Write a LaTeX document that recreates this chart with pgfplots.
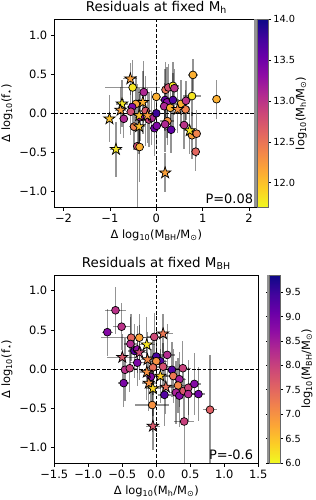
\documentclass[border=0pt]{standalone}
\usepackage{fontspec}
\setmainfont{DejaVu Sans}
\usepackage{pgfplots}
\pgfplotsset{compat=1.18}
\usepackage{pgfplotstable}

\pgfdeclareplotmark{fstar}{%
  \pgfpathmoveto{\pgfpointpolar{90}{\pgfplotmarksize}}%
  \pgfpathlineto{\pgfpointpolar{126}{0.382\pgfplotmarksize}}%
  \pgfpathlineto{\pgfpointpolar{162}{\pgfplotmarksize}}%
  \pgfpathlineto{\pgfpointpolar{198}{0.382\pgfplotmarksize}}%
  \pgfpathlineto{\pgfpointpolar{234}{\pgfplotmarksize}}%
  \pgfpathlineto{\pgfpointpolar{270}{0.382\pgfplotmarksize}}%
  \pgfpathlineto{\pgfpointpolar{306}{\pgfplotmarksize}}%
  \pgfpathlineto{\pgfpointpolar{342}{0.382\pgfplotmarksize}}%
  \pgfpathlineto{\pgfpointpolar{18}{\pgfplotmarksize}}%
  \pgfpathlineto{\pgfpointpolar{54}{0.382\pgfplotmarksize}}%
  \pgfpathclose
  \pgfusepathqfillstroke}

\pgfplotstableread{
x y ex ey c
-0.51 0.33 0.60 0.35 11.8
-0.27 0.27 0.12 0.40 13.1
0.00 0.21 0.10 0.30 12.1
-0.44 0.12 0.15 0.35 12.2
-0.52 0.08 0.12 0.30 13.4
-0.55 0.02 0.10 0.30 12.8
-0.70 -0.07 0.10 0.25 13.1
-0.23 0.03 0.12 0.45 12.7
-0.16 -0.08 0.15 0.35 12.9
-0.48 -0.17 0.10 0.30 12.4
-0.41 -0.42 0.10 0.80 12.8
-0.36 -0.43 0.10 0.45 12.1
-0.35 -0.05 0.12 0.30 13.3
-0.10 -0.06 0.10 0.35 13.1
0.00 0.00 0.10 0.30 13.8
-0.04 -0.19 0.10 0.35 13.5
0.01 -0.16 0.10 0.30 13.4
0.20 0.30 0.10 0.35 12.5
0.26 0.33 0.10 0.30 12.8
0.36 0.35 0.12 0.30 11.8
0.39 0.32 0.10 0.25 13.0
0.19 0.17 0.10 0.40 13.6
0.23 0.14 0.10 0.45 13.3
0.36 0.17 0.12 0.35 13.7
0.17 0.09 0.10 0.30 13.1
0.30 0.07 0.10 0.30 12.1
0.24 -0.10 0.15 0.30 12.3
0.19 -0.14 0.10 0.35 13.1
0.32 -0.21 0.10 0.30 13.6
0.53 0.12 0.12 0.30 12.1
0.64 0.16 0.10 0.25 13.0
0.63 0.05 0.10 0.25 12.4
0.77 0.22 0.20 0.25 11.8
0.79 0.49 0.10 0.20 12.1
0.60 -0.15 0.10 0.30 13.0
0.77 -0.28 0.10 0.30 12.2
0.87 -0.26 0.10 0.30 12.4
0.85 -0.49 0.10 0.25 12.6
1.30 0.18 0.10 0.25 12.1
}\topcirc

\pgfplotstableread{
x y ex ey c
-0.56 0.44 0.15 0.20 12.2
-0.74 0.12 0.12 0.30 11.8
-0.77 0.04 0.12 0.30 12.2
-1.01 -0.07 0.10 0.30 12.0
-0.87 -0.46 0.12 0.35 11.8
-0.29 0.14 0.12 0.40 12.1
-0.37 -0.03 0.12 0.35 12.0
-0.37 -0.17 0.12 0.35 12.0
-0.19 -0.03 0.12 0.35 12.2
0.19 -0.76 0.10 0.25 12.2
0.46 0.05 0.12 0.30 12.3
0.72 -0.22 0.12 0.30 11.8
}\topstar

\pgfplotstableread{
x y ex ey c
-0.60 0.75 0.16 0.30 8.2
-0.72 0.47 0.08 0.30 8.8
-0.51 0.54 0.12 0.30 8.2
-0.37 0.40 0.45 0.30 7.5
-0.25 0.40 0.10 0.30 6.8
-0.03 0.41 0.10 0.30 7.9
-0.38 0.32 0.10 0.35 8.3
-0.32 0.23 0.10 0.35 9.3
-0.28 0.25 0.10 0.30 8.7
-0.28 0.08 0.10 0.30 8.9
-0.46 -0.01 0.10 0.40 8.2
-0.39 0.01 0.10 0.30 8.0
-0.48 -0.18 0.08 0.30 8.9
0.00 0.16 0.12 0.35 9.4
0.06 0.10 0.10 0.35 9.3
0.00 0.10 0.10 0.30 7.0
-0.05 0.02 0.10 0.35 7.4
0.10 0.03 0.10 0.30 7.8
-0.08 -0.10 0.10 0.35 8.8
0.16 0.18 0.12 0.40 8.3
0.23 -0.01 0.10 0.35 9.3
0.25 -0.09 0.10 0.35 7.3
0.34 -0.13 0.10 0.35 8.5
0.39 0.01 0.12 0.35 8.0
0.12 -0.33 0.10 0.40 9.3
0.32 -0.21 0.10 0.35 7.1
0.29 -0.30 0.10 0.40 8.4
0.34 -0.34 0.10 0.40 8.8
0.40 -0.28 0.10 0.35 7.7
0.47 -0.24 0.10 0.35 8.0
0.47 -0.32 0.10 0.35 8.3
0.56 -0.19 0.10 0.40 8.8
0.62 -0.32 0.10 0.35 9.0
0.79 -0.52 0.10 0.70 7.6
0.41 -0.67 0.15 0.55 8.0
-0.06 -0.46 0.25 0.35 7.0
}\botcirc

\pgfplotstableread{
x y ex ey c
0.10 0.45 0.15 0.25 7.3
-0.14 0.31 0.12 0.35 6.2
-0.25 0.21 0.12 0.35 7.9
-0.50 0.15 0.22 0.30 7.7
-0.13 0.12 0.10 0.35 7.1
-0.14 -0.04 0.10 0.35 7.0
-0.11 -0.18 0.10 0.35 7.0
-0.05 -0.25 0.10 0.35 6.3
0.06 -0.09 0.10 0.35 6.4
0.14 -0.23 0.12 0.35 7.4
-0.05 -0.73 0.10 0.30 7.7
}\botstar

\pgfplotsset{
  colormap={plasmar}{rgb255=(240,249,33) rgb255=(252,206,37) rgb255=(252,166,54) rgb255=(242,132,75) rgb255=(225,100,98) rgb255=(204,71,120) rgb255=(177,42,144) rgb255=(143,13,164) rgb255=(106,0,168) rgb255=(65,4,157) rgb255=(13,8,135)},
  resid/.style={
    scale only axis, width=204bp, height=188bp,
    ymin=-1.2, ymax=1.2,
    ytick={-1,-0.5,0,0.5,1}, yticklabels={−1.0,−0.5,0.0,0.5,1.0},
    tick align=outside, xtick pos=left, ytick pos=left,
    major tick length=3.5bp,
    tick style={black, line width=0.6bp},
    axis line style={line width=0.6bp},
    ticklabel style={font=\fontsize{11.5}{13}\selectfont},
    label style={font=\fontsize{11.5}{13}\selectfont},
    title style={font=\fontsize{13.5}{15}\selectfont, yshift=-4bp},
    colormap name=plasmar,
    colorbar right,
  },
  ebars/.style={draw=none, mark=none, forget plot,
    error bars/.cd, x dir=both, x explicit, y dir=both, y explicit, error mark=none,
    error bar style={draw=black, draw opacity=0.42, line width=1.3bp}},
  circs/.style={scatter, only marks, mark=*, mark size=3.9bp, point meta=explicit,
    scatter/use mapped color={draw=black, fill=mapped color},
    mark options={line width=0.7bp}},
  stars/.style={scatter, only marks, mark=fstar, mark size=6bp, point meta=explicit,
    scatter/use mapped color={draw=black, fill=mapped color},
    mark options={line width=0.7bp}},
  cbstyle/.style={
    width=11bp, scale only axis, xshift=-10bp,
    tick align=outside, major tick length=3bp,
    tick style={black, line width=0.6bp},
    axis line style={line width=0.6bp, draw=gray!80!black},
    yticklabel style={font=\fontsize{9.8}{11}\selectfont, inner sep=2bp},
    ylabel style={font=\fontsize{11.5}{13}\selectfont},
    ylabel shift=-5bp,
    after end axis/.code={\draw[gray!85, line width=2.7bp] ([xshift=-1.35bp]rel axis cs:0,0) -- ([xshift=-1.35bp]rel axis cs:0,1);},
  },
}

\begin{document}
\begin{tikzpicture}
\path[use as bounding box] (-54.3bp,19.3bp) rectangle (261.7bp,-480.7bp);

\begin{axis}[resid, name=top, at={(0,0)}, anchor=north west,
  xmin=-2.2, xmax=2.2,
  xtick={-2,-1,0,1,2}, xticklabels={−2,−1,0,1,2},
  title={Residuals at fixed M\textsubscript{h}},
  xlabel={Δ log\textsubscript{10}(M\textsubscript{BH}/M\textsubscript{⊙})},
  ylabel={Δ log\textsubscript{10}(f\textsubscript{⋆})},
  point meta min=11.7, point meta max=14.0,
  colorbar style={cbstyle,
    ytick={12,12.5,13,13.5,14}, yticklabels={12.0,12.5,13.0,13.5,14.0},
    ylabel={log\textsubscript{10}(M\textsubscript{h}/M\textsubscript{⊙})}},
]
\addplot[black, dash pattern=on 3.5bp off 1.8bp, line width=0.9bp, forget plot] coordinates {(0,-1.2) (0,1.2)};
\addplot[black, dash pattern=on 3.5bp off 1.8bp, line width=0.9bp, forget plot] coordinates {(-2.2,0) (2.2,0)};
\addplot[ebars] table[x=x, y=y, x error=ex, y error=ey] {\topcirc};
\addplot[ebars] table[x=x, y=y, x error=ex, y error=ey] {\topstar};
\addplot[circs] table[x=x, y=y, meta=c] {\topcirc};
\addplot[stars] table[x=x, y=y, meta=c] {\topstar};
\node[anchor=south east, font=\fontsize{13}{14}\selectfont, inner sep=2bp] at (rel axis cs:0.985,0.005) {P=0.08};
\end{axis}

\begin{axis}[resid, name=bot, at={(0,-255.7bp)}, anchor=north west,
  xmin=-1.5, xmax=1.5,
  xtick={-1.5,-1,-0.5,0,0.5,1,1.5}, xticklabels={−1.5,−1.0,−0.5,0.0,0.5,1.0,1.5},
  title={Residuals at fixed M\textsubscript{BH}},
  xlabel={Δ log\textsubscript{10}(M\textsubscript{h}/M\textsubscript{⊙})},
  ylabel={Δ log\textsubscript{10}(f\textsubscript{⋆})},
  point meta min=6.0, point meta max=9.85,
  colorbar style={cbstyle,
    ytick={6,6.5,7,7.5,8,8.5,9,9.5}, yticklabels={6.0,6.5,7.0,7.5,8.0,8.5,9.0,9.5},
    ylabel={log\textsubscript{10}(M\textsubscript{BH}/M\textsubscript{⊙})}},
]
\addplot[black, dash pattern=on 3.5bp off 1.8bp, line width=0.9bp, forget plot] coordinates {(0,-1.2) (0,1.2)};
\addplot[black, dash pattern=on 3.5bp off 1.8bp, line width=0.9bp, forget plot] coordinates {(-1.5,0) (1.5,0)};
\addplot[ebars] table[x=x, y=y, x error=ex, y error=ey] {\botcirc};
\addplot[ebars] table[x=x, y=y, x error=ex, y error=ey] {\botstar};
\addplot[circs] table[x=x, y=y, meta=c] {\botcirc};
\addplot[stars] table[x=x, y=y, meta=c] {\botstar};
\node[anchor=south east, font=\fontsize{13}{14}\selectfont, inner sep=2bp] at (rel axis cs:0.985,0.005) {P=-0.6};
\end{axis}
\end{tikzpicture}
\end{document}
